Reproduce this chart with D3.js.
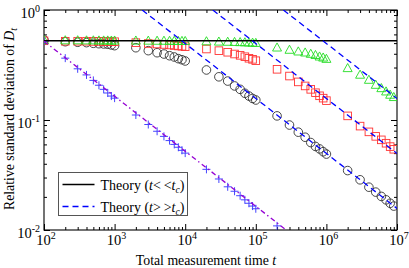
<!DOCTYPE html>
<html>
<head>
<meta charset="utf-8">
<script src="https://cdn.jsdelivr.net/npm/d3@7/dist/d3.min.js"></script>
<style>
    body { margin: 0; background: #fff; }
    svg text { font-family: "Liberation Serif", "Times New Roman", serif; fill: #000; }
</style>
</head>
<body>
<div id="chart"></div>
<script>
// measurement times (x values)
const times = [
    100, 200, 300, 400, 500, 600, 700, 800, 900, 1000,
    2000, 3000, 4000, 5000, 6000, 7000, 8000, 9000, 10000,
    20000, 30000, 40000, 50000, 60000, 70000, 80000, 90000, 100000,
    200000, 300000, 400000, 500000, 600000, 700000, 800000, 900000, 1000000,
    2000000, 3000000, 4000000, 5000000, 6000000, 7000000, 8000000, 9000000
];

// relative standard deviation, one list per data set
const circles = [
    0.533, 0.515, 0.509, 0.505, 0.498, 0.494, 0.491, 0.488, 0.481, 0.474,
    0.454, 0.427, 0.409, 0.398, 0.384, 0.374, 0.361, 0.353, 0.344,
    0.285, 0.247, 0.226, 0.204, 0.190, 0.175, 0.165, 0.157, 0.152,
    0.109, 0.090, 0.0775, 0.0697, 0.0624, 0.0575, 0.0546, 0.0515, 0.049,
    0.0347, 0.0286, 0.0245, 0.0221, 0.0202, 0.0188, 0.0175, 0.0165
];
const squares = [
    0.525, 0.520, 0.520, 0.520, 0.518, 0.518, 0.517, 0.516, 0.515, 0.515,
    0.505, 0.496, 0.491, 0.486, 0.481, 0.476, 0.471, 0.468, 0.464,
    0.442, 0.427, 0.413, 0.398, 0.387, 0.376, 0.364, 0.356, 0.346,
    0.289, 0.251, 0.222, 0.204, 0.190, 0.177, 0.166, 0.158, 0.150,
    0.109, 0.088, 0.078, 0.071, 0.066, 0.0615, 0.0573, 0.0542
];
const triangles = [
    0.530, 0.528, 0.528, 0.527, 0.527, 0.526, 0.526, 0.526, 0.525, 0.525,
    0.525, 0.524, 0.523, 0.523, 0.522, 0.522, 0.521, 0.521, 0.520,
    0.517, 0.514, 0.512, 0.510, 0.508, 0.506, 0.504, 0.502, 0.500,
    0.454, 0.433, 0.418, 0.409, 0.398, 0.388, 0.376, 0.368, 0.358,
    0.295, 0.257, 0.231, 0.208, 0.194, 0.181, 0.169, 0.161
];
// the cross set stops at 2e5
const crosses = [
    0.520, 0.365, 0.292, 0.257, 0.229, 0.207, 0.190, 0.176, 0.165, 0.158,
    0.111, 0.091, 0.079, 0.071, 0.065, 0.060, 0.0565, 0.053, 0.050,
    0.0356, 0.0291, 0.0247, 0.0225, 0.0205, 0.0188, 0.0175, 0.0165, 0.0156,
    0.0109
];

// theory curves as [t, value] end points
const theoryShort = [[100, 0.525], [1e7, 0.525]];
const theoryLong = [
    [[2460, 1], [1e7, 0.0157]],
    [[24600, 1], [1e7, 0.0496]],
    [[246000, 1], [1e7, 0.157]]
];
const theoryCross = [[100, 0.52], [1e7, 0.00164]];

const xMajor = [1e2, 1e3, 1e4, 1e5, 1e6, 1e7];
const yMajor = [1e-2, 1e-1, 1];

const margin = { top: 10, right: 12, bottom: 38, left: 44 };
const W = 409, H = 268;
const width = W - margin.left - margin.right;
const height = H - margin.top - margin.bottom;

const svg = d3.select('#chart').append('svg')
    .attr('width', W)
    .attr('height', H);

const g = svg.append('g')
    .attr('transform', `translate(${margin.left},${margin.top})`);

const x = d3.scaleLog().domain([1e2, 1e7]).range([0, width]);
const y = d3.scaleLog().domain([1e-2, 1]).range([height, 0]);

// minor tick positions 2..9 of each decade
function minorTicks(scale) {
    const [a, b] = scale.domain();
    return scale.ticks().filter(v => v > a && v < b && Math.abs(Math.log10(v) % 1) > 1e-6);
}

g.append('defs').append('clipPath').attr('id', 'clip')
    .append('rect').attr('width', width).attr('height', height);

// axes: ticks point inwards on all four sides
function drawAxes() {
    const axes = [
        [d3.axisBottom(x), `translate(0,${height})`],
        [d3.axisTop(x), 'translate(0,0)'],
        [d3.axisLeft(y), 'translate(0,0)'],
        [d3.axisRight(y), `translate(${width},0)`]
    ];
    axes.forEach(([ax, tr]) => {
        const isX = ax.scale() === x;
        const sc = isX ? x : y;
        g.append('g').attr('transform', tr)
            .call(ax.tickValues(minorTicks(sc)).tickSize(-3).tickFormat('').tickSizeOuter(0))
            .call(s => s.select('.domain').remove());
        g.append('g').attr('transform', tr)
            .call(ax.tickValues(isX ? xMajor : yMajor).tickSize(-6).tickFormat('').tickSizeOuter(0))
            .call(s => s.select('.domain').remove());
    });
    g.selectAll('.tick line').attr('stroke', '#000').attr('stroke-width', 1);
    g.append('rect')
        .attr('width', width).attr('height', height)
        .attr('fill', 'none').attr('stroke', '#000').attr('stroke-width', 1.1);
}

function powerLabel(sel, exp) {
    sel.append('tspan').text('10');
    sel.append('tspan').attr('dy', -6).style('font-size', '10px').text(exp);
}

drawAxes();

g.selectAll('.xlab').data(xMajor).enter().append('text')
    .attr('class', 'xlab')
    .attr('x', d => x(d) + 2)
    .attr('y', height + 14.5)
    .attr('text-anchor', 'middle')
    .style('font-size', '14.5px')
    .each(function (d) { powerLabel(d3.select(this), Math.round(Math.log10(d))); });

g.selectAll('.ylab').data(yMajor).enter().append('text')
    .attr('class', 'ylab')
    .attr('x', -4)
    .attr('y', d => y(d) + 7.5)
    .attr('text-anchor', 'end')
    .style('font-size', '14.5px')
    .each(function (d) { powerLabel(d3.select(this), Math.round(Math.log10(d))); });

// axis titles
const xt = svg.append('text')
    .attr('x', 206).attr('y', 265)
    .attr('text-anchor', 'middle')
    .style('font-size', '13.8px');
xt.append('tspan').text('Total measurement time ');
xt.append('tspan').style('font-style', 'italic').text('t');

const yt = svg.append('text')
    .attr('transform', 'translate(14,119) rotate(-90)')
    .attr('text-anchor', 'middle')
    .style('font-size', '13.8px');
yt.append('tspan').text('Relative standard deviation of ');
yt.append('tspan').style('font-style', 'italic').text('D');
yt.append('tspan').attr('dy', 3).style('font-size', '10px').style('font-style', 'italic').text('t');

// theory lines
const line = d3.line().x(d => x(d[0])).y(d => y(d[1]));
const plot = g.append('g').attr('clip-path', 'url(#clip)');

// data markers
const pts = arr => arr.map((v, i) => [times[i], v]);

plot.selectAll('.circ').data(pts(circles)).enter().append('circle')
    .attr('cx', d => x(d[0])).attr('cy', d => y(d[1])).attr('r', 4.3)
    .attr('fill', 'none').attr('stroke', '#333').attr('stroke-width', 0.9);

plot.selectAll('.sq').data(pts(squares)).enter().append('rect')
    .attr('x', d => x(d[0]) - 3.8).attr('y', d => y(d[1]) - 3.8)
    .attr('width', 7.6).attr('height', 7.6)
    .attr('fill', 'none').attr('stroke', '#f33').attr('stroke-width', 0.9);

plot.selectAll('.tri').data(pts(triangles)).enter().append('path')
    .attr('transform', d => `translate(${x(d[0])},${y(d[1])})`)
    .attr('d', 'M0,-4.8L4.5,3.3L-4.5,3.3Z')
    .attr('fill', 'none').attr('stroke', '#2d2').attr('stroke-width', 0.9);

plot.selectAll('.cross').data(pts(crosses)).enter().append('path')
    .attr('transform', d => `translate(${x(d[0])},${y(d[1])})`)
    .attr('d', 'M-4,0H4M0,-4V4')
    .attr('fill', 'none').attr('stroke', '#44f').attr('stroke-width', 1);

plot.append('path').datum(theoryShort).attr('d', line)
    .attr('fill', 'none').attr('stroke', '#000').attr('stroke-width', 1.5);

theoryLong.forEach(seg => {
    plot.append('path').datum(seg).attr('d', line)
        .attr('fill', 'none').attr('stroke', '#00f').attr('stroke-width', 1.3)
        .attr('stroke-dasharray', '6,4');
});

plot.append('path').datum(theoryCross).attr('d', line)
    .attr('fill', 'none').attr('stroke', '#9400d3').attr('stroke-width', 1.3)
    .attr('stroke-dasharray', '5,3,1.5,3');

// legend
const leg = svg.append('g').attr('transform', 'translate(58.5,172.5)');
leg.append('rect').attr('width', 129).attr('height', 43)
    .attr('fill', '#fff').attr('stroke', '#555').attr('stroke-width', 1);

const legendItems = [
    { sym: '<\u2009<', color: '#000', dash: null },
    { sym: '>\u2009>', color: '#00f', dash: '6,4' }
];
legendItems.forEach((d, i) => {
    const yy = 12 + i * 22;
    leg.append('line').attr('x1', 4).attr('x2', 36).attr('y1', yy).attr('y2', yy)
        .attr('stroke', d.color).attr('stroke-width', 1.5)
        .attr('stroke-dasharray', d.dash);
    const t = leg.append('text').attr('x', 42).attr('y', yy + 5).style('font-size', '14px');
    t.append('tspan').text('Theory (');
    t.append('tspan').style('font-style', 'italic').text('t');
    t.append('tspan').text(d.sym);
    t.append('tspan').style('font-style', 'italic').text('t');
    t.append('tspan').attr('dy', 3).style('font-size', '9.5px').style('font-style', 'italic').text('c');
    t.append('tspan').attr('dy', -3).text(')');
});
</script>
</body>
</html>
